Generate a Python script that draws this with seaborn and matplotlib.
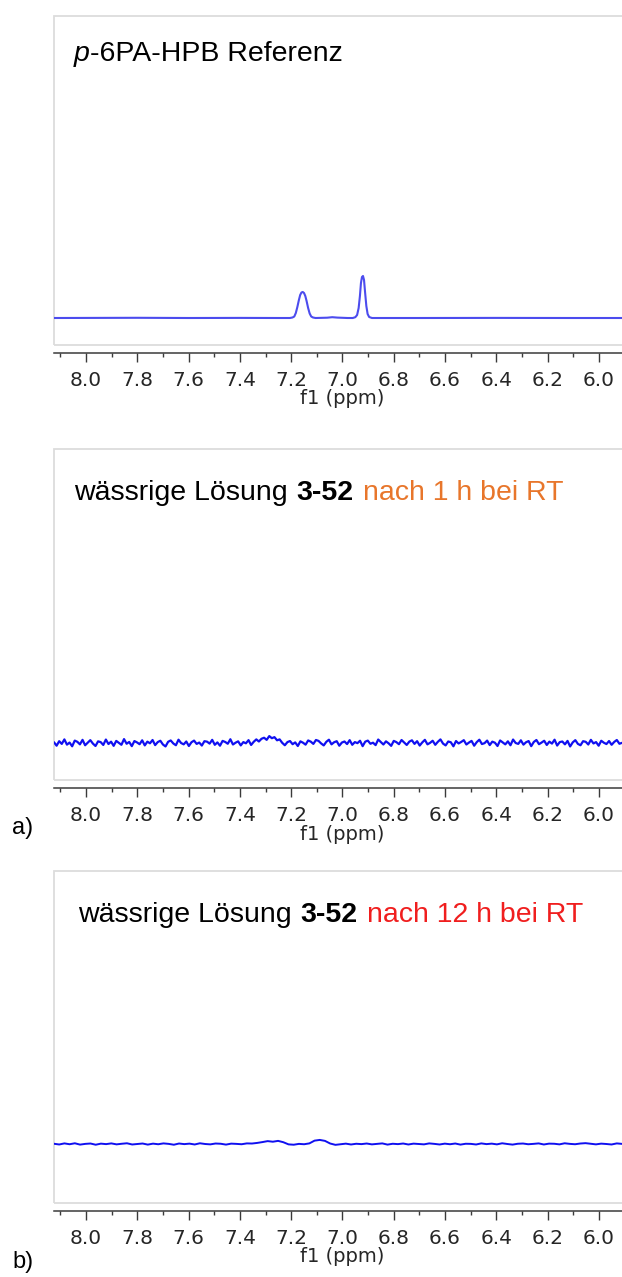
import numpy as np
import pandas as pd
import matplotlib
matplotlib.use("Agg")
import matplotlib.pyplot as plt
from matplotlib.patches import Rectangle
from matplotlib.ticker import FixedLocator
import seaborn as sns

# ---------------------------------------------------------------- data
# reference spectrum p-6PA-HPB (aromatic region), intensity in arbitrary units
ref_ppm = [8.125, 7.80, 7.60, 7.40, 7.25,
           7.205, 7.195, 7.188, 7.182, 7.176, 7.170, 7.165, 7.160, 7.155,
           7.150, 7.145, 7.140, 7.134, 7.128, 7.122, 7.115, 7.105,
           7.06, 7.04, 7.02, 6.98,
           6.960, 6.950, 6.943, 6.937, 6.932, 6.928, 6.924, 6.920, 6.916,
           6.912, 6.907, 6.902, 6.896, 6.885,
           6.70, 6.40, 6.10, 5.91]
ref_int = [0.0, 0.2, 0.0, 0.1, 0.0,
           0.0, 0.5, 1.5, 5.0, 11.0, 18.0, 23.0, 25.5, 26.0,
           25.0, 22.0, 17.0, 10.0, 4.5, 1.5, 0.5, 0.0,
           0.3, 0.8, 0.4, 0.0,
           0.0, 0.8, 3.0, 10.0, 22.0, 35.0, 41.0, 42.0, 38.0,
           26.0, 12.0, 4.0, 1.0, 0.0,
           0.0, 0.1, 0.0, 0.0]

# aqueous solution 3-52 after 1 h at RT (8.125 -> 5.91 ppm, equally spaced)
noise_1h = [
    0.5, -1.8, 1.2, -0.6, 2.4, -1.1, 0.3, -2.2, 1.6, 0.8, -0.9, 2.1, -1.5, 0.2, 1.9, -0.4, -2.0, 1.1, 0.6, -1.3,
    2.3, -0.7, 0.9, -1.9, 1.4, 0.1, -1.2, 2.6, -0.5, 0.7, -2.1, 1.3, 0.4, -0.8, 1.8, -1.6, 0.9, -0.2, 2.0, -1.4,
    0.6, 1.5, -1.0, -2.3, 0.8, 1.7, -0.3, -1.5, 2.2, 0.0, -0.9, 1.0, -2.0, 0.5, 1.6, -0.6, 0.3, -1.7, 1.2, 0.9,
    -0.4, 2.1, -1.2, 0.4, -1.8, 1.4, 0.7, -0.5, 2.5, -1.0, 0.2, 1.1, -1.6, 0.6, -0.2, 1.9, -1.3, 0.8, 2.4, 1.0,
    2.8, 3.5, 2.1, 4.6, 3.2, 3.9, 1.8, 2.4, 0.1, -1.5, 0.6, 1.3, -0.8, 0.4, -2.0, 1.1, 0.2, -1.1, 1.7, 0.9,
    -0.6, 2.0, 1.4, -0.3, -1.6, 0.8, 2.2, -0.9, 0.5, 1.2, -1.8, 0.3, 1.0, -0.7, 1.9, -1.2, 0.6, -0.1, 1.5, -2.1,
    0.9, 1.6, -0.5, 0.2, -1.4, 2.3, 0.7, -1.0, 1.1, -0.2, -1.9, 1.4, 0.6, -0.8, 2.0, 0.3, -1.3, 0.9, 1.8, -0.6,
    1.2, -1.7, 0.4, 2.1, -0.9, 0.1, 1.5, -1.2, 0.8, 2.4, -0.4, -1.6, 1.0, 0.5, -2.2, 1.3, -0.3, 0.7, 1.9, -1.0,
    0.3, 1.4, -1.8, 0.6, 2.2, -0.7, -0.1, 1.6, -1.4, 0.9, 0.2, -2.0, 1.7, 0.4, -0.9, 1.1, -1.5, 2.3, 0.0, -0.6,
    1.8, -1.1, 0.5, 1.3, -2.1, 0.7, 2.0, -0.8, 0.3, 1.5, -1.3, 0.9, -0.4, 2.2, -1.7, 0.6, 1.0, -0.9, 1.4, -2.3,
    0.4, 1.9, -0.6, -1.5, 1.2, 0.8, -1.0, 2.1, -0.3, 0.6, -1.8, 1.5, 0.2, -0.7, 1.3, -1.2, 0.7, 2.0, -0.5, 0.1,
]

# aqueous solution 3-52 after 12 h at RT (8.125 -> 5.91 ppm, equally spaced)
noise_12h = [
    0.2, -0.4, 0.5, -0.2, 0.6, -0.5, 0.1, 0.4, -0.6, 0.3, -0.1, 0.5, -0.3, 0.2, 0.6, -0.4, 0.0, 0.4, -0.5, 0.3,
    -0.2, 0.5, 0.1, -0.6, 0.4, -0.1, 0.3, -0.4, 0.6, 0.0, -0.3, 0.4, 0.2, -0.5, 0.3, 0.1, -0.2, 0.5, 0.4, 0.9,
    1.6, 2.4, 1.9, 2.6, 1.5, -0.3, -0.6, 0.1, -0.2, 0.5, 2.8, 3.4, 2.6, 0.4, -0.7, -0.2, 0.3, -0.4, 0.2, -0.1,
    0.4, -0.3, 0.1, 0.5, -0.5, 0.2, -0.1, 0.4, -0.4, 0.3, 0.0, -0.3, 0.5, 0.1, -0.4, 0.3, -0.2, 0.4, -0.5, 0.2,
    0.1, -0.4, 0.5, -0.1, 0.3, -0.3, 0.6, 0.0, -0.5, 0.2, 0.4, -0.2, 0.1, 0.5, -0.4, 0.3, 0.2, -0.3, 0.6, 0.1,
    -0.2, 0.4, 0.7, 0.2, -0.3, 0.3, 0.0, -0.4, 0.5, 0.1,
]

ppm_window = (8.125, 5.91)
major_ticks = [8.0, 7.8, 7.6, 7.4, 7.2, 7.0, 6.8, 6.6, 6.4, 6.2, 6.0]
tick_labels = ["8.0", "7.8", "7.6", "7.4", "7.2", "7.0", "6.8", "6.6", "6.4", "6.2", "6.0"]
minor_ticks = [8.1, 7.9, 7.7, 7.5, 7.3, 7.1, 6.9, 6.7, 6.5, 6.3, 6.1]
axis_title = "f1 (ppm)"

# ---------------------------------------------------------------- style
W, H = 622, 1277
sns.set_style("white")
plt.rcParams["font.family"] = ["Liberation Sans", "DejaVu Sans"]
TICK_FONT = ["DejaVu Sans"]
FRAME = "#dcdcdc"
AXIS = "#3a3a3a"
LABEL = "#262626"


def fx(px):
    return px / W


def fy(px):
    return 1 - px / H


def spectrum_frame(ppm, intensity):
    return pd.DataFrame({"ppm": ppm, "intensity": intensity})


df_ref = spectrum_frame(ref_ppm, ref_int)
df_1h = spectrum_frame(np.linspace(ppm_window[0], ppm_window[1], len(noise_1h)), noise_1h)
df_12h = spectrum_frame(np.linspace(ppm_window[0], ppm_window[1], len(noise_12h)), noise_12h)

fig = plt.figure(figsize=(W / 100, H / 100), dpi=100)
fig.patch.set_facecolor("white")

LEFT = 54
# vertical scale of each panel: pixels per intensity unit and baseline height above the frame
panels = [
    dict(top=16, bottom=345, df=df_ref, scale=1.0, base=27, color="#4c4cee", lw=1.5),
    dict(top=449, bottom=780, df=df_1h, scale=1.5, base=37, color="#1010f0", lw=1.6),
    dict(top=871, bottom=1203, df=df_12h, scale=1.2, base=59, color="#1010f0", lw=1.4),
]

for p in panels:
    height = p["bottom"] - p["top"]
    ax = fig.add_axes([fx(LEFT), fy(p["bottom"]), fx(W - LEFT), height / H])
    sns.lineplot(data=p["df"], x="ppm", y="intensity", ax=ax, color=p["color"],
                 lw=p["lw"], estimator=None, sort=True)
    ax.set_xlim(*ppm_window)
    ax.set_ylim(-p["base"] / p["scale"], (height - p["base"]) / p["scale"])
    ax.set_xlabel("")
    ax.set_ylabel("")
    ax.set_yticks([])
    ax.set_facecolor("white")

    # light frame of the plot area
    ax.add_patch(Rectangle((0, 0), 1.2, 1, transform=ax.transAxes, fill=False,
                           ec=FRAME, lw=1.3, clip_on=False))
    for side in ("left", "top", "right"):
        ax.spines[side].set_visible(False)
    # ppm scale drawn just below the frame
    ax.spines["bottom"].set_position(("outward", 8 * 0.72))
    ax.spines["bottom"].set_color(AXIS)
    ax.spines["bottom"].set_linewidth(1.1)

    ax.set_xticks(major_ticks, labels=tick_labels)
    ax.xaxis.set_minor_locator(FixedLocator(minor_ticks))
    ax.tick_params(axis="x", which="major", bottom=True, direction="out", length=6.5,
                   width=1.0, color=AXIS, labelsize=14.5, labelcolor=LABEL, pad=6.5)
    ax.tick_params(axis="x", which="minor", bottom=True, direction="out", length=3.2,
                   width=1.0, color=AXIS)
    for lab in ax.get_xticklabels():
        lab.set_family(TICK_FONT)

    ax.annotate(axis_title, xy=(7.0, 0), xycoords=("data", "axes fraction"),
                xytext=(0, -54 * 0.72), textcoords="offset points",
                ha="center", va="center", fontsize=14, color=LABEL, family=TICK_FONT)

renderer = fig.canvas.get_renderer()


def rich_title(x_px, baseline_px, parts):
    x = x_px
    for text, props, gap in parts:
        x += gap
        t = fig.text(fx(x), fy(baseline_px), text, ha="left", va="baseline",
                     fontsize=20.5, **props)
        x = t.get_window_extent(renderer).x1


rich_title(74, 61, [
    ("p", dict(style="italic", color="black"), 0),
    ("-6PA-HPB Referenz", dict(color="black"), 0),
])
rich_title(74, 500, [
    ("wässrige Lösung", dict(color="black"), 0),
    ("3-52", dict(color="black", weight="bold"), 9),
    ("nach 1 h bei RT", dict(color="#e8762b"), 9),
])
rich_title(78, 922, [
    ("wässrige Lösung", dict(color="black"), 0),
    ("3-52", dict(color="black", weight="bold"), 9),
    ("nach 12 h bei RT", dict(color="#f01e1e"), 9),
])

fig.text(fx(12), fy(828), "a)", ha="left", va="center", fontsize=17, color="black")
fig.text(fx(12), fy(1262), "b)", ha="left", va="center", fontsize=17, color="black")

fig.savefig("out.png", dpi=100, facecolor="white")
